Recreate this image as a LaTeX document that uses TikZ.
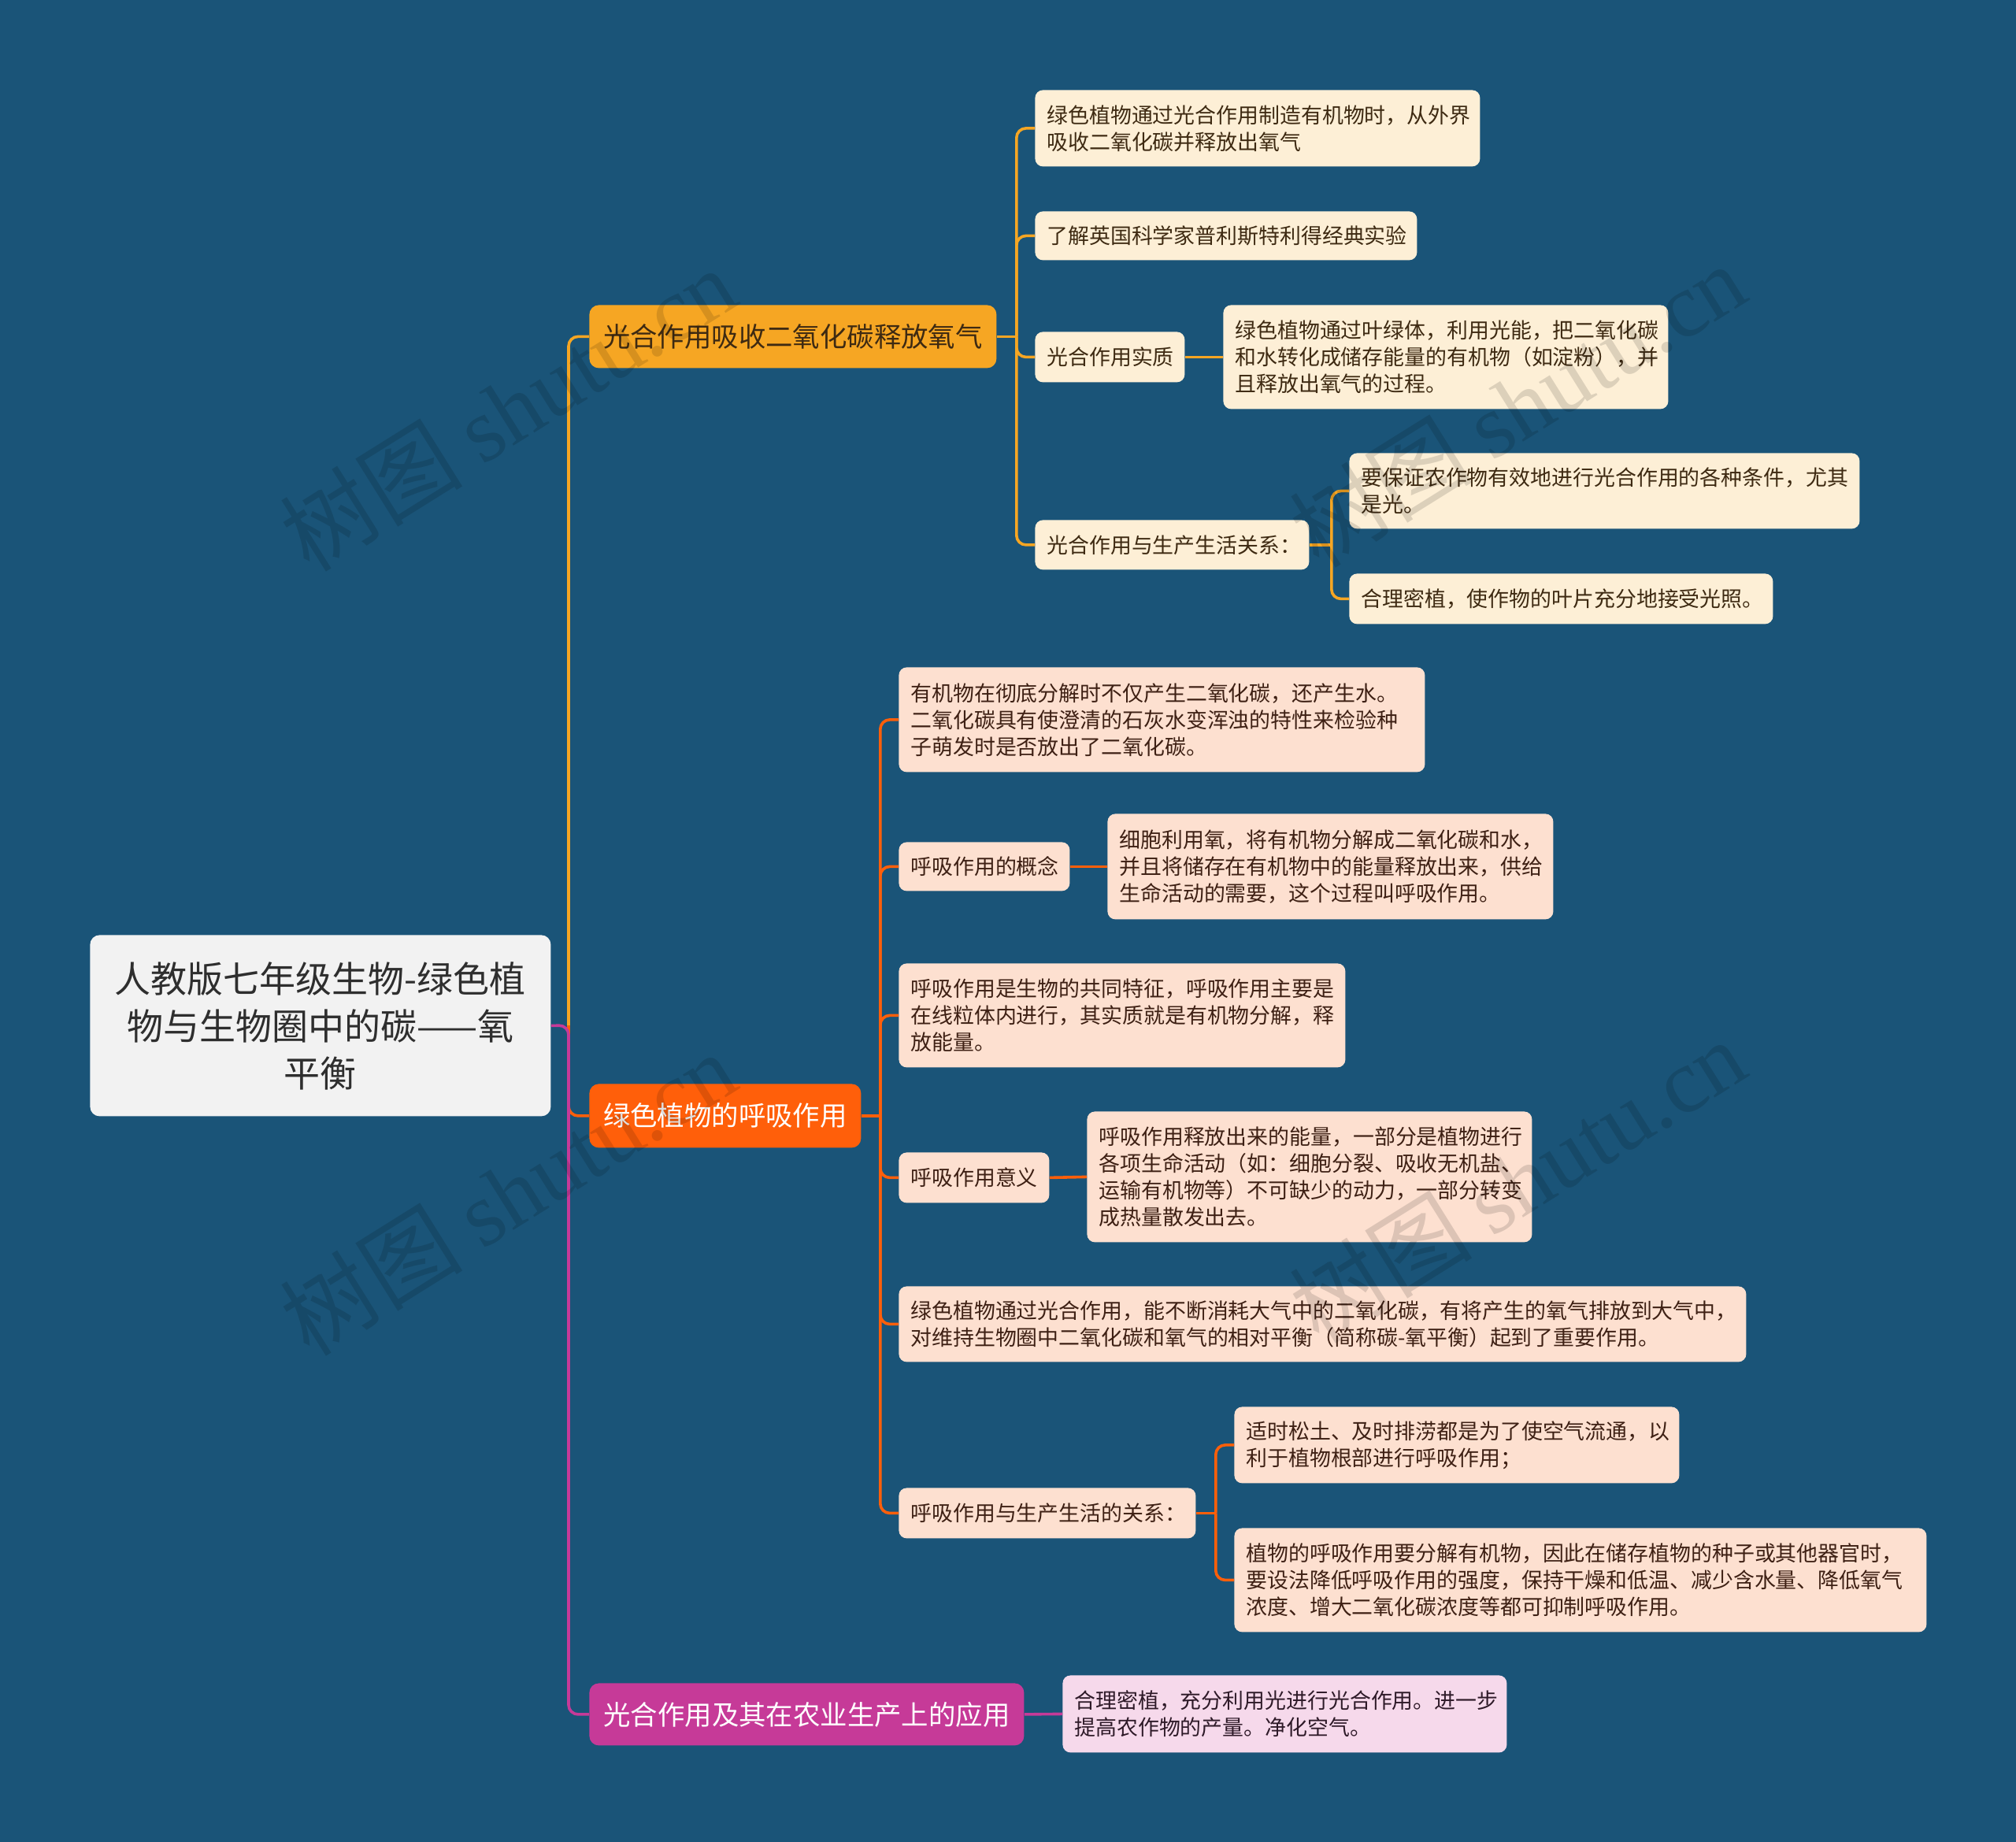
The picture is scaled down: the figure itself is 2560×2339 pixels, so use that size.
\documentclass[tikz,border=0pt]{standalone}
\usepackage{fontspec}
\setmainfont{Noto Sans CJK SC}
\newfontfamily\wmlatin{Liberation Serif}
\definecolor{bg}{HTML}{1A5478}
\definecolor{brA}{HTML}{F6A623}
\definecolor{brB}{HTML}{FF5F0A}
\definecolor{brC}{HTML}{C63A98}
\definecolor{lfA}{HTML}{FDEFD6}
\definecolor{lfB}{HTML}{FDE0D0}
\definecolor{lfC}{HTML}{F6D9EB}
\definecolor{rootfill}{HTML}{F2F2F2}
\definecolor{txtA}{HTML}{3E2A12}
\definecolor{txtB}{HTML}{3E2014}
\definecolor{txtC}{HTML}{2E1A28}
\begin{document}
\begin{tikzpicture}[x=0.5pt,y=-0.5pt,
  box/.style={anchor=north west, rounded corners=5pt, inner xsep=7.5pt, inner ysep=0pt, align=left},
  leaffont/.style={font=\fontsize{13.45pt}{17pt}\selectfont},
  leafA/.style={box, leaffont, fill=lfA, text=txtA},
  leafB/.style={box, leaffont, fill=lfB, text=txtB},
  leafC/.style={box, leaffont, fill=lfC, text=txtC},
  branch/.style={anchor=north west, rounded corners=6pt, inner sep=0pt, align=center, font=\fontsize{17.2pt}{20pt}\selectfont},
  rootbox/.style={anchor=north west, rounded corners=6pt, inner sep=0pt, align=center, fill=rootfill, text=black!82, font=\fontsize{23pt}{30pt}\selectfont},
  cA/.style={draw=brA, line width=1.8pt, rounded corners=6pt},
  cB/.style={draw=brB, line width=1.8pt, rounded corners=6pt},
  cC/.style={draw=brC, line width=1.8pt, rounded corners=6pt},
  wm/.style={rotate=32, text=black, text opacity=0.13, font=\fontsize{58pt}{60pt}\selectfont}
]
\fill[bg] (0,0) rectangle (2560,2339);
\useasboundingbox (0,0) rectangle (2560,2339);

% root
\node[rootbox, minimum width=292.5pt, minimum height=115pt] (root) at (114,1187)
  {人教版七年级生物-绿色植\\物与生物圈中的碳——氧\\平衡};

% main branches
\node[branch, fill=brA, text=txtA, minimum width=258.5pt, minimum height=40pt] (b1) at (748,387) {光合作用吸收二氧化碳释放氧气};
\node[branch, fill=brB, text=white, minimum width=172.5pt, minimum height=40.5pt] (b2) at (748,1376) {绿色植物的呼吸作用};
\node[branch, fill=brC, text=white, minimum width=276pt, minimum height=39.5pt] (b3) at (748,2137) {光合作用及其在农业生产上的应用};

% branch 1 leaves
\node[leafA, text width=267.5pt, minimum height=48.5pt] (a1) at (1314,114)
  {绿色植物通过光合作用制造有机物时，从外界\\吸收二氧化碳并释放出氧气};
\node[leafA, text width=227.5pt, minimum height=31pt] (a2) at (1314,268)
  {了解英国科学家普利斯特利得经典实验};
\node[leafA, text width=80pt, minimum height=32pt] (a3) at (1314,421)
  {光合作用实质};
\node[leafA, text width=267.5pt, minimum height=66pt] (a3x) at (1553,387)
  {绿色植物通过叶绿体，利用光能，把二氧化碳\\和水转化成储存能量的有机物（如淀粉），并\\且释放出氧气的过程。};
\node[leafA, text width=159pt, minimum height=31.5pt] (a4) at (1314,660)
  {光合作用与生产生活关系：};
\node[leafA, text width=309pt, minimum height=48pt] (a4x) at (1713,575)
  {要保证农作物有效地进行光合作用的各种条件，尤其\\是光。};
\node[leafA, text width=254pt, minimum height=32pt] (a4y) at (1713,728)
  {合理密植，使作物的叶片充分地接受光照。};

% branch 2 leaves
\node[leafB, text width=319pt, minimum height=66.5pt] (c1) at (1141,847)
  {有机物在彻底分解时不仅产生二氧化碳，还产生水。\\二氧化碳具有使澄清的石灰水变浑浊的特性来检验种\\子萌发时是否放出了二氧化碳。};
\node[leafB, text width=93.5pt, minimum height=31pt] (c2) at (1141,1069)
  {呼吸作用的概念};
\node[leafB, text width=268pt, minimum height=67pt] (c2x) at (1406,1033)
  {细胞利用氧，将有机物分解成二氧化碳和水，\\并且将储存在有机物中的能量释放出来，供给\\生命活动的需要，这个过程叫呼吸作用。};
\node[leafB, text width=268.5pt, minimum height=66pt] (c3) at (1141,1223)
  {呼吸作用是生物的共同特征，呼吸作用主要是\\在线粒体内进行，其实质就是有机物分解，释\\放能量。};
\node[leafB, text width=80.5pt, minimum height=32pt] (c4) at (1141,1463)
  {呼吸作用意义};
\node[leafB, text width=267.5pt, minimum height=83pt] (c4x) at (1380,1411)
  {呼吸作用释放出来的能量，一部分是植物进行\\各项生命活动（如：细胞分裂、吸收无机盐、\\运输有机物等）不可缺少的动力，一部分转变\\成热量散发出去。};
\node[leafB, text width=523pt, minimum height=48pt] (c5) at (1141,1633)
  {绿色植物通过光合作用，能不断消耗大气中的二氧化碳，有将产生的氧气排放到大气中，\\对维持生物圈中二氧化碳和氧气的相对平衡（简称碳-氧平衡）起到了重要作用。};
\node[leafB, text width=173.5pt, minimum height=32pt] (c6) at (1141,1889)
  {呼吸作用与生产生活的关系：};
\node[leafB, text width=267.5pt, minimum height=48.5pt] (c6x) at (1567,1786)
  {适时松土、及时排涝都是为了使空气流通，以\\利于植物根部进行呼吸作用；};
\node[leafB, text width=424.5pt, minimum height=66pt] (c6y) at (1567,1940)
  {植物的呼吸作用要分解有机物，因此在储存植物的种子或其他器官时，\\要设法降低呼吸作用的强度，保持干燥和低温、减少含水量、降低氧气\\浓度、增大二氧化碳浓度等都可抑制呼吸作用。};

% branch 3 leaf
\node[leafC, text width=267pt, minimum height=49pt] (d1) at (1349,2127)
  {合理密植，充分利用光进行光合作用。进一步\\提高农作物的产量。净化空气。};

% connectors: root to branches
\coordinate (rs) at (722,1302);
\draw[cA] (rs) |- (b1.west);
\draw[cB] (rs) |- (b2.west);
\draw[cC] (root.east) -- (rs) |- (b3.west);

% branch 1
\draw[cA] (b1.east) -- ++(25,0) coordinate (s1);
\draw[cA] (s1) |- (a1.west);
\draw[cA] (s1) |- (a2.west);
\draw[cA] (s1) |- (a3.west);
\draw[cA] (s1) |- (a4.west);
\draw[cA] (a3.east) -- (a3x.west);
\draw[cA] (a4.east) -- ++(28,0) coordinate (s1d);
\draw[cA] (s1d) |- (a4x.west);
\draw[cA] (s1d) |- (a4y.west);

% branch 2
\draw[cB] (b2.east) -- ++(24,0) coordinate (s2);
\draw[cB] (s2) |- (c1.west);
\draw[cB] (s2) |- (c2.west);
\draw[cB] (s2) |- (c3.west);
\draw[cB] (s2) |- (c4.west);
\draw[cB] (s2) |- (c5.west);
\draw[cB] (s2) |- (c6.west);
\draw[cB] (c2.east) -- (c2x.west);
\draw[cB] (c4.east) -- (c4x.west);
\draw[cB] (c6.east) -- ++(25,0) coordinate (s2f);
\draw[cB] (s2f) |- (c6x.west);
\draw[cB] (s2f) |- (c6y.west);

% branch 3
\draw[cC] (b3.east) -- (d1.west);

% watermarks
\node[wm] (wm1) at (645,519) {树图 {\wmlatin shutu.cn}};
\node[wm] (wm2) at (645,1515) {树图 {\wmlatin shutu.cn}};
\node[wm] (wm3) at (1927,514) {树图 {\wmlatin shutu.cn}};
\node[wm] (wm4) at (1927,1499) {树图 {\wmlatin shutu.cn}};
\end{tikzpicture}
\end{document}
